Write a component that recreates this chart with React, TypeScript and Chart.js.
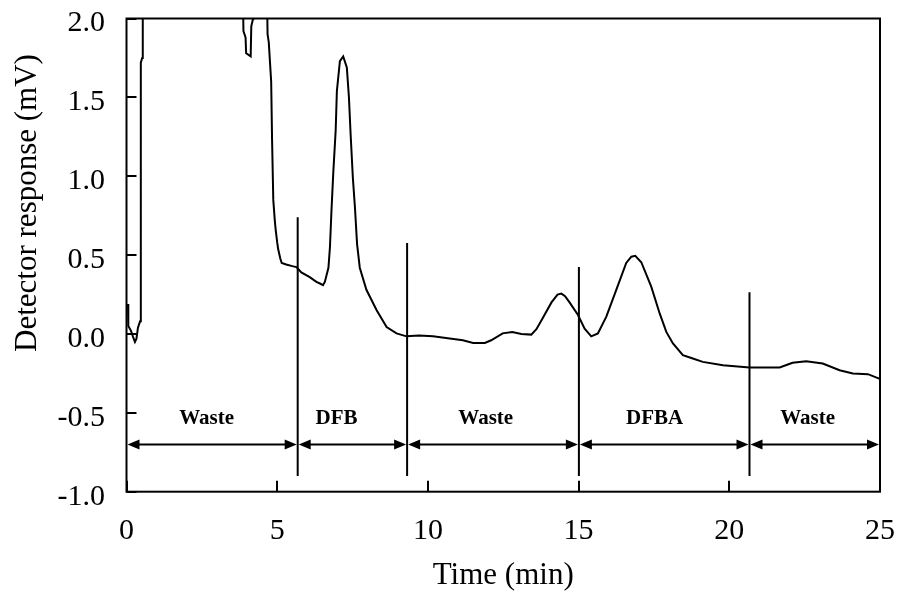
import React, { useEffect, useRef } from "react";
import { Chart, registerables } from "chart.js";

Chart.register(...registerables);

// Chromatogram trace (time in min, response in mV); values above 2.0 are off-scale
const times = [
  0.05, 0.06, 0.15, 0.22, 0.28, 0.33, 0.38, 0.45, 0.47, 0.48, 0.52, 0.54,
  3.85, 3.88, 3.95, 3.97, 4.12, 4.14, 4.2, 4.22, 4.65, 4.68, 4.72, 4.8,
  4.83, 4.87, 4.92, 4.95, 5.0, 5.03, 5.1, 5.15, 5.3, 5.5, 5.64, 5.8,
  6.08, 6.3, 6.42, 6.52, 6.58, 6.7, 6.75, 6.8, 6.86, 6.94, 6.98, 7.08,
  7.19, 7.31, 7.38, 7.44, 7.51, 7.58, 7.65, 7.74, 7.96, 8.3, 8.63, 8.96,
  9.29, 9.7, 10.17, 10.6, 11.16, 11.5, 11.89, 12.1, 12.48, 12.8, 13.1, 13.43,
  13.6, 13.77, 14.1, 14.3, 14.43, 14.55, 14.7, 14.98, 15.2, 15.42, 15.64, 15.92,
  16.25, 16.58, 16.75, 16.88, 17.08, 17.41, 17.69, 17.91, 18.13, 18.46, 18.79, 19.12,
  19.79, 20.67, 21.67, 22.1, 22.55, 23.1, 23.66, 24.1, 24.6, 24.93, 25.0,
];
const response = [
  0.19, 0.05, 0.02, -0.02, -0.05, -0.03, 0.04, 0.08, 0.5, 1.72, 1.75, 2.3,
  2.3, 1.92, 1.88, 1.78, 1.76, 1.95, 2.0, 2.3, 2.3, 1.9, 1.85, 1.6,
  1.23, 0.85, 0.72, 0.66, 0.58, 0.54, 0.48, 0.45, 0.44, 0.43, 0.424, 0.39,
  0.36, 0.33, 0.32, 0.31, 0.33, 0.42, 0.55, 0.78, 1.02, 1.29, 1.54, 1.73,
  1.76, 1.69, 1.5, 1.25, 0.99, 0.8, 0.57, 0.42, 0.28, 0.15, 0.044, 0.004,
  -0.015, -0.01, -0.015, -0.025, -0.04, -0.057, -0.057, -0.04, 0.004, 0.013, 0.0, -0.004,
  0.03, 0.087, 0.2, 0.25, 0.256, 0.24, 0.2, 0.12, 0.034, -0.015, 0.003, 0.11,
  0.28, 0.45, 0.49, 0.495, 0.455, 0.3, 0.13, 0.013, -0.06, -0.135, -0.156, -0.177,
  -0.198, -0.213, -0.213, -0.183, -0.173, -0.187, -0.23, -0.25, -0.255, -0.28, -0.285,
];

// Fraction-collection segments
const boundaries = [0, 5.68, 9.31, 15.01, 20.67, 25];
const cutTops = [0.74, 0.576, 0.424, 0.264];
const cutBottom = -0.9;
const regionLabels = ["Waste", "DFB", "Waste", "DFBA", "Waste"];
const labelTimes = [2.66, 6.97, 11.92, 17.52, 22.6];
const labelLevel = -0.535;
const arrowLevel = -0.7;

const xTicks = [0, 5, 10, 15, 20, 25];
const yTicks = [-1.0, -0.5, 0.0, 0.5, 1.0, 1.5, 2.0];

const SERIF = '"Liberation Serif", "Times New Roman", serif';

const overlay = {
  id: "overlay",
  afterDatasetsDraw(chart: any) {
    const { ctx, chartArea: a, scales } = chart;
    const xs = scales.x;
    const ys = scales.y;
    ctx.save();
    ctx.strokeStyle = "#000";
    ctx.fillStyle = "#000";
    ctx.lineWidth = 2;
    ctx.lineCap = "butt";
    // frame
    ctx.strokeRect(a.left, a.top, a.right - a.left, a.bottom - a.top);
    // inward ticks
    ctx.beginPath();
    yTicks.forEach((v) => {
      const py = Math.round(ys.getPixelForValue(v));
      ctx.moveTo(a.left, py);
      ctx.lineTo(a.left + 10, py);
    });
    xTicks.forEach((v) => {
      const px = Math.round(xs.getPixelForValue(v));
      ctx.moveTo(px, a.bottom);
      ctx.lineTo(px, a.bottom - 11);
    });
    ctx.stroke();
    // arrows
    const ay = ys.getPixelForValue(arrowLevel);
    const head = 12;
    const hh = 5;
    for (let i = 0; i < boundaries.length - 1; i++) {
      const x1 = xs.getPixelForValue(boundaries[i]);
      const x2 = xs.getPixelForValue(boundaries[i + 1]);
      ctx.beginPath();
      ctx.moveTo(x1 + head, ay);
      ctx.lineTo(x2 - head, ay);
      ctx.stroke();
      ctx.beginPath();
      ctx.moveTo(x1 + 1, ay);
      ctx.lineTo(x1 + 1 + head, ay - hh);
      ctx.lineTo(x1 + 1 + head, ay + hh);
      ctx.closePath();
      ctx.fill();
      ctx.beginPath();
      ctx.moveTo(x2 - 1, ay);
      ctx.lineTo(x2 - 1 - head, ay - hh);
      ctx.lineTo(x2 - 1 - head, ay + hh);
      ctx.closePath();
      ctx.fill();
    }
    // region labels
    ctx.font = "bold 21px " + SERIF;
    ctx.textAlign = "center";
    ctx.textBaseline = "middle";
    regionLabels.forEach((lab, i) => {
      ctx.fillText(lab, xs.getPixelForValue(labelTimes[i]), ys.getPixelForValue(labelLevel));
    });
    // axis titles
    ctx.font = "31px " + SERIF;
    ctx.fillText("Time (min)", (a.left + a.right) / 2, 576);
    ctx.translate(28, 203);
    ctx.rotate(-Math.PI / 2);
    ctx.fillText("Detector response (mV)", 0, 0);
    ctx.restore();
  },
};

const noOverflow = (s: any) => {
  s.paddingTop = 0;
  s.paddingBottom = 0;
  s.paddingLeft = 0;
  s.paddingRight = 0;
};

export default function App() {
  const ref = useRef<HTMLCanvasElement>(null);
  useEffect(() => {
    if (!ref.current) return;
    const traceData = times.map((t, i) => ({ x: t, y: response[i] }));
    const cutSets = cutTops.map((top, i) => ({
      data: [
        { x: boundaries[i + 1], y: cutBottom },
        { x: boundaries[i + 1], y: top },
      ],
      borderColor: "#000",
      borderWidth: 2,
      pointRadius: 0,
      tension: 0,
    }));
    const chart = new Chart(ref.current, {
      type: "line",
      data: {
        datasets: [
          {
            data: traceData,
            borderColor: "#000",
            borderWidth: 2,
            pointRadius: 0,
            tension: 0,
          },
          ...cutSets,
        ],
      },
      options: {
        animation: false,
        responsive: false,
        devicePixelRatio: 1,
        layout: { padding: { left: 0, right: 19, top: 18.5, bottom: 0 } },
        plugins: { legend: { display: false }, tooltip: { enabled: false } },
        scales: {
          x: {
            type: "linear",
            min: 0,
            max: 25,
            grid: { display: false },
            border: { display: false },
            afterBuildTicks: (s: any) => {
              s.ticks = xTicks.map((v) => ({ value: v }));
            },
            afterFit: (s: any) => {
              s.height = 103.3;
              noOverflow(s);
            },
            ticks: {
              color: "#000",
              padding: 13,
              maxRotation: 0,
              font: { family: SERIF, size: 30 },
              callback: (v: any) => String(v),
            },
          },
          y: {
            type: "linear",
            min: -1,
            max: 2,
            grid: { display: false },
            border: { display: false },
            afterBuildTicks: (s: any) => {
              s.ticks = yTicks.map((v) => ({ value: v }));
            },
            afterFit: (s: any) => {
              s.width = 126.5;
              noOverflow(s);
            },
            ticks: {
              color: "#000",
              padding: 13.5,
              labelOffset: 5,
              font: { family: SERIF, size: 30 },
              callback: (v: any) => Number(v).toFixed(1),
            },
          },
        },
      },
      plugins: [overlay],
    });
    return () => chart.destroy();
  }, []);
  return (
    <div style={{ position: "fixed", left: 0, top: 0, width: 899, height: 595, background: "#fff" }}>
      <canvas ref={ref} width={899} height={595} />
    </div>
  );
}
